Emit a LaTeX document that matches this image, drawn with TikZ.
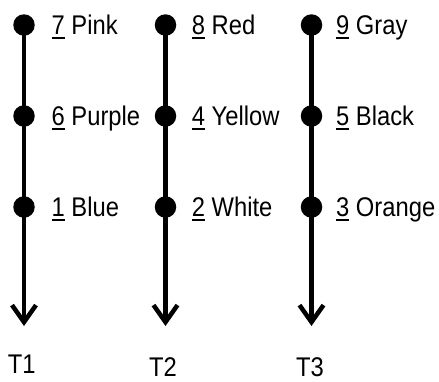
\documentclass[tikz,border=0pt]{standalone}
\usepackage{fontspec}
\setmainfont[FakeStretch=0.88]{Liberation Sans}
\usetikzlibrary{arrows.meta}
\newcommand\ulnum[1]{\setbox0\hbox{#1}\rlap{\rule[-4.5pt]{\wd0}{2pt}}\box0\relax}
\tikzset{
  dotnode/.style={circle,fill=black,inner sep=0pt,minimum size=21.5pt},
  lbl/.style={anchor=base west,inner sep=0pt,font=\fontsize{27}{30}\selectfont},
  tlbl/.style={anchor=base,inner sep=0pt,font=\fontsize{27}{30}\selectfont},
  axis/.style={line width=4.5pt,-{Straight Barb[length=17pt,width=24pt]}}
}
\begin{document}
\begin{tikzpicture}[x=1pt,y=-1pt]
\useasboundingbox (0,0) rectangle (439,381);
% column 1
\node[dotnode] (a1) at (24,25) {};
\node[dotnode] (a2) at (24,116) {};
\node[dotnode] (a3) at (24,207) {};
\coordinate (ta) at (24,326);
% column 2
\node[dotnode] (b1) at (165.5,25) {};
\node[dotnode] (b2) at (165.5,116) {};
\node[dotnode] (b3) at (165.5,207) {};
\coordinate (tb) at (165.5,326);
% column 3
\node[dotnode] (c1) at (311.5,25) {};
\node[dotnode] (c2) at (311.5,116) {};
\node[dotnode] (c3) at (311.5,207) {};
\coordinate (tc) at (311.5,326);
\draw[axis] (a1.center) -- (ta);
\draw[axis] (b1.center) -- (tb);
\draw[axis] (c1.center) -- (tc);
% labels
\node[lbl] (la1) at (51.5,34.7) {\ulnum{7} Pink};
\node[lbl] (la2) at (51.5,125.7) {\ulnum{6} Purple};
\node[lbl] (la3) at (51.5,216.7) {\ulnum{1} Blue};
\node[lbl] (lb1) at (191.7,34.7) {\ulnum{8} Red};
\node[lbl] (lb2) at (191.7,125.7) {\ulnum{4} Yellow};
\node[lbl] (lb3) at (191.7,216.7) {\ulnum{2} White};
\node[lbl] (lc1) at (336,34.7) {\ulnum{9} Gray};
\node[lbl] (lc2) at (336,125.7) {\ulnum{5} Black};
\node[lbl] (lc3) at (336,216.7) {\ulnum{3} Orange};
\node[tlbl] (t1) at (21.8,373.3) {T1};
\node[tlbl] (t2) at (163,376) {T2};
\node[tlbl] (t3) at (310,376) {T3};
\end{tikzpicture}
\end{document}
